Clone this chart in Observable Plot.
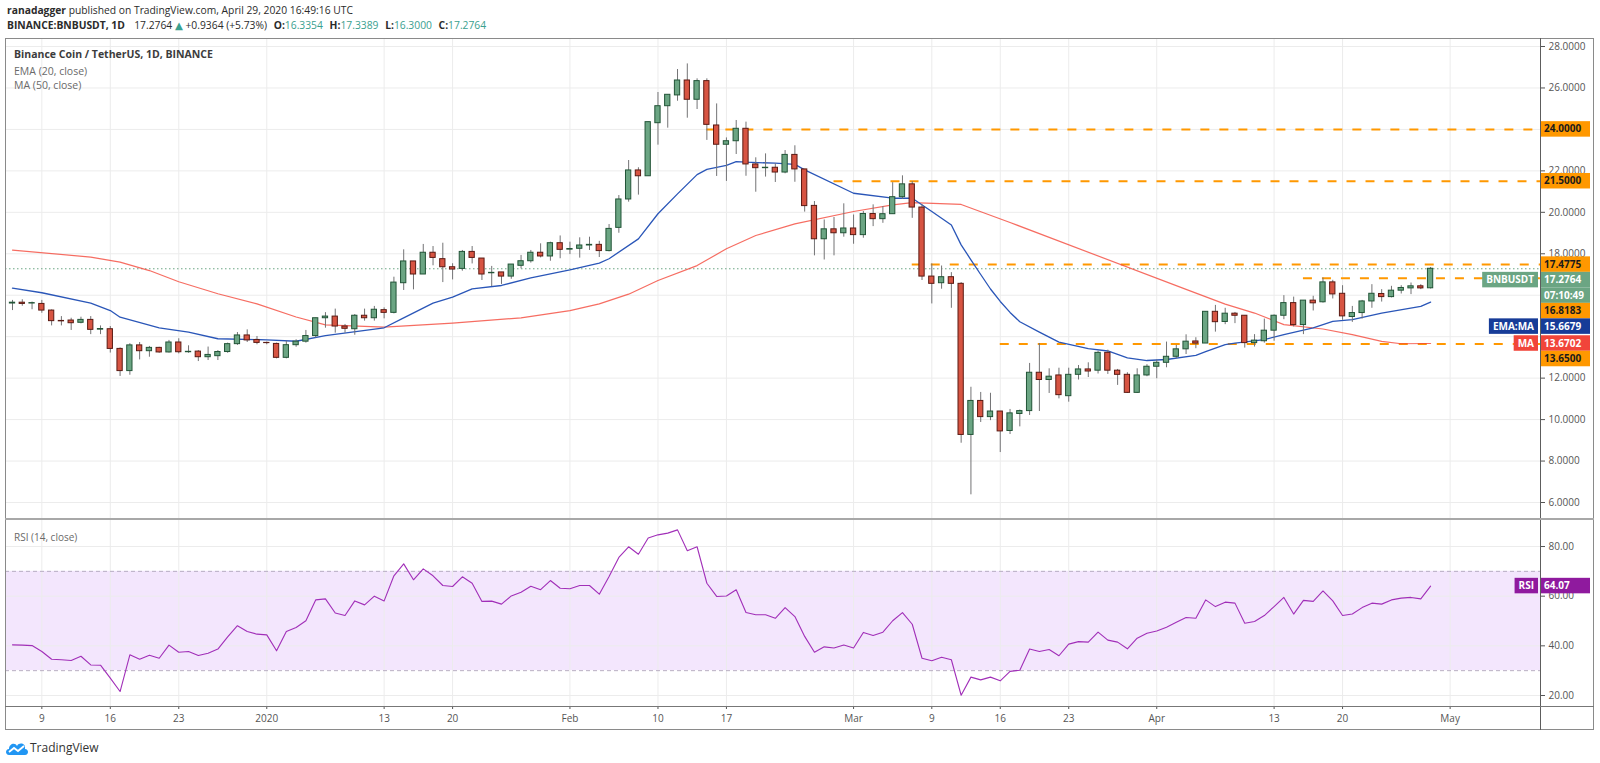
<!DOCTYPE html>
<html><head><meta charset="utf-8">
<script src="https://cdn.jsdelivr.net/npm/d3@7"></script>
<script src="https://cdn.jsdelivr.net/npm/@observablehq/plot@0.6"></script>
<style>
html,body{margin:0;padding:0;background:#fff;}
#page{position:relative;width:1600px;height:763px;overflow:hidden;font-family:"Open Sans","Noto Sans","DejaVu Sans",sans-serif;color:#333;}
.abs{position:absolute;white-space:nowrap;}
.hdr{font-size:10.3px;line-height:13px;color:#2b2b2b;}
.t{color:#3aa08f;}
.g{margin-left:4px;}
.ln{position:absolute;background:#8a8a8a;}
.leg{font-size:10.5px;line-height:14px;}
</style></head>
<body><div id="page">
<div class="abs hdr" style="left:7px;top:4px"><b>ranadagger</b> published on TradingView.com, April 29, 2020 16:49:16 UTC</div>
<div class="abs hdr" style="left:7px;top:19px"><b>BINANCE:BNBUSDT, 1D</b>&nbsp; <span class="g">17.2764</span> <span class="t">▲</span> +0.9364 (+5.73%) <b class="g">O:</b><span class="t">16.3354</span> <b class="g">H:</b><span class="t">17.3389</span> <b class="g">L:</b><span class="t">16.3000</span> <b class="g">C:</b><span class="t">17.2764</span></div>
<div id="main" class="abs" style="left:0;top:38px"></div>
<div id="rsi" class="abs" style="left:0;top:519px"></div>
<div class="abs leg" style="left:14px;top:47px;font-weight:bold;color:#3c3c3c">Binance Coin / TetherUS, 1D, BINANCE</div>
<div class="abs leg" style="left:14px;top:64px;color:#6a6a6a">EMA (20, close)</div>
<div class="abs leg" style="left:14px;top:78px;color:#6a6a6a">MA (50, close)</div>
<div class="abs leg" style="left:14px;top:530px;color:#6a6a6a;font-size:10px">RSI (14, close)</div>
<div class="ln" style="left:5px;top:38px;width:1589px;height:1px"></div>
<div class="ln" style="left:5px;top:729px;width:1589px;height:1px"></div>
<div class="ln" style="left:5px;top:38px;width:1px;height:692px"></div>
<div class="ln" style="left:1593px;top:38px;width:1px;height:692px"></div>
<div class="ln" style="left:1540px;top:38px;width:1px;height:692px;background:#5d5d5d"></div>
<div class="ln" style="left:5px;top:518px;width:1589px;height:2px;background:#a8a8a8"></div>
<div class="ln" style="left:5px;top:706px;width:1589px;height:1px;background:#777"></div>
<div class="abs" style="left:5px;top:739px">
<svg width="24" height="16" viewBox="0 0 24 16"><path d="M4 15 C0 15 0 9 4 9 C4 4 10 2 12 6 C14 2 21 3 20 9 C24 9 24 15 20 15 Z" fill="#2196f3"/><path d="M4 12 L9 8 L13 11 L19 6" stroke="#fff" stroke-width="1.8" fill="none"/></svg></div>
<div class="abs" style="left:30px;top:739px;font-size:12px;color:#333">TradingView</div>
</div>
<script>
// ---- data ----
const firstDay = Date.UTC(2019, 11, 6); // Dec 6, 2019, one candle per day up to Apr 29, 2020
const open = [15.60,15.64,15.60,15.58,15.26,14.76,14.78,14.67,14.81,14.34,
14.36,13.41,12.34,13.58,13.30,13.46,13.24,13.72,13.25,13.28,
13.01,13.06,13.26,13.64,14.06,13.84,13.70,13.65,12.98,13.59,
13.76,14.03,14.89,14.97,14.49,14.36,15.01,14.89,15.28,15.15,
16.58,17.63,17.00,18.05,17.74,17.35,17.27,18.09,17.77,17.06,
17.10,16.90,17.42,17.64,18.05,17.87,18.51,18.20,18.24,18.40,
18.43,18.13,19.25,20.62,22.02,21.74,24.30,25.12,25.64,26.36,
25.43,26.33,24.19,23.26,23.43,24.03,22.31,22.13,22.15,21.92,
22.77,22.07,20.31,18.70,19.18,18.99,19.22,18.90,19.92,19.67,
19.91,20.73,21.35,20.23,16.90,16.58,16.87,16.55,9.26,10.90,
10.12,10.39,9.45,10.27,10.41,12.26,11.91,12.13,11.13,12.16,
12.42,12.36,13.22,12.36,12.16,11.29,12.13,12.55,12.74,13.03,
13.39,13.77,13.67,15.20,14.71,15.11,15.01,13.69,13.78,14.29,
15.01,15.62,14.56,15.74,15.66,16.62,16.07,14.95,15.14,15.70,
16.06,15.91,16.22,16.33,16.43,16.3354];
const high = [15.75,15.78,15.67,15.75,15.29,14.97,14.89,14.94,14.97,14.52,
14.49,13.46,13.66,13.72,13.53,13.49,13.82,13.90,13.56,13.33,
13.50,13.33,13.69,14.20,14.33,14.01,13.74,13.69,13.78,13.85,
14.30,14.89,15.16,15.33,14.59,15.07,15.33,15.46,15.39,16.87,
18.19,17.63,18.45,18.35,18.51,17.52,18.16,18.35,17.77,17.39,
17.10,17.48,17.92,18.16,18.48,18.56,18.86,18.56,18.77,18.80,
18.60,19.41,20.81,22.50,22.15,24.35,25.78,25.67,26.89,27.16,
26.44,26.44,25.23,23.59,24.43,24.35,22.63,22.82,22.34,22.98,
23.21,22.07,20.52,19.63,19.75,20.41,19.87,20.04,20.36,20.28,
21.43,21.76,21.48,20.36,17.51,17.41,17.09,16.61,11.56,11.31,
11.27,10.39,10.49,10.46,12.71,13.67,12.45,12.48,12.48,12.61,
12.74,13.30,13.35,12.42,12.26,12.45,12.65,12.87,13.74,13.58,
14.09,13.95,15.20,15.51,15.37,15.17,15.01,14.10,14.85,15.05,
15.98,15.91,15.74,15.95,16.83,16.72,16.46,15.46,15.75,16.51,
16.27,16.43,16.46,16.59,16.51,17.3389];
const low = [15.26,15.47,15.30,15.13,14.52,14.52,14.30,14.62,14.10,14.10,
13.21,12.08,12.14,12.88,13.01,13.20,13.21,13.17,13.20,12.80,
12.85,12.85,13.20,13.58,13.72,13.61,13.61,12.93,12.93,13.49,
13.69,13.94,14.41,14.17,14.17,14.07,14.75,14.75,14.86,15.10,
16.23,16.26,17.00,17.42,16.61,16.74,17.16,17.51,16.71,16.42,
16.52,16.77,17.27,17.55,17.80,17.64,17.76,17.96,17.79,18.16,
17.82,18.09,18.99,20.49,20.83,21.74,23.24,24.06,25.36,24.54,
24.96,23.47,21.73,21.49,22.79,21.74,20.97,21.70,21.44,21.86,
21.45,20.01,17.90,17.70,17.90,18.80,18.46,18.75,19.31,19.47,
19.91,20.63,19.71,16.71,15.58,16.29,15.37,8.86,6.37,9.86,
9.95,8.41,9.28,9.65,10.20,10.39,11.26,11.00,10.84,11.91,
12.03,12.20,12.18,11.65,11.26,11.26,12.07,11.97,12.50,12.93,
13.14,13.42,13.67,14.22,14.58,14.63,13.45,13.50,13.69,13.78,
14.82,14.47,14.10,15.24,15.62,15.82,14.79,14.69,14.85,15.37,
15.67,15.87,16.06,16.03,16.27,16.30];
const close = [15.64,15.58,15.62,15.26,14.75,14.74,14.65,14.81,14.33,14.37,
13.41,12.34,13.58,13.30,13.46,13.24,13.72,13.25,13.27,13.01,
13.12,13.26,13.64,14.06,13.82,13.70,13.69,12.98,13.59,13.76,
14.03,14.89,14.97,14.49,14.38,15.01,14.89,15.30,15.15,16.61,
17.63,17.00,18.05,17.80,17.35,17.24,18.09,17.80,17.00,17.08,
16.90,17.48,17.64,18.05,17.87,18.51,18.19,18.23,18.40,18.43,
18.13,19.20,20.62,22.02,21.74,24.35,25.12,25.67,26.36,25.43,
26.33,24.22,23.26,23.43,24.03,22.31,22.13,22.15,21.92,22.77,
22.07,20.30,18.70,19.18,18.99,19.22,18.90,19.92,19.67,19.91,
20.73,21.35,20.23,16.90,16.55,16.87,16.55,9.26,10.90,10.12,
10.39,9.43,10.30,10.41,12.26,11.91,12.07,11.18,12.16,12.42,
12.32,13.22,12.36,12.16,11.29,12.13,12.55,12.74,13.03,13.39,
13.76,13.67,15.20,14.70,15.11,15.01,13.69,13.81,14.29,15.01,
15.62,14.56,15.74,15.61,16.62,16.04,14.98,15.14,15.70,16.07,
15.91,16.22,16.35,16.43,16.33,17.2764];
const rsiValues = [40.4,40.3,40.1,37.7,34.6,34.4,34.1,35.8,32.3,32.2,
27.0,21.6,36.4,34.6,36.2,35.0,40.3,37.4,37.7,36.1,
37.0,38.7,43.6,48.1,45.8,44.7,44.4,38.0,45.8,47.4,
50.1,58.5,58.9,53.2,52.2,58.1,56.5,60.0,58.1,68.2,
73.0,66.6,71.0,68.2,64.3,63.9,67.8,65.2,57.9,58.0,
56.8,60.1,61.6,64.0,62.6,66.3,63.2,63.0,64.3,64.3,
60.8,67.9,75.6,79.9,76.9,83.4,84.7,85.4,86.7,78.3,
79.9,65.2,59.9,60.1,62.6,53.4,52.5,52.5,51.1,55.4,
51.8,43.8,37.4,39.6,39.1,40.3,39.1,45.4,44.2,45.5,
50.1,53.4,48.7,35.0,34.0,35.4,34.4,20.1,27.4,26.3,
27.4,25.9,29.7,30.2,38.7,37.7,38.5,36.0,40.7,41.7,
41.5,45.5,42.3,41.5,38.8,43.1,45.1,46.0,47.5,49.5,
51.4,51.1,58.5,55.8,57.6,57.2,49.1,49.8,52.2,55.8,
59.5,52.8,58.3,57.9,62.1,58.1,52.2,52.8,55.4,57.2,
56.8,58.5,59.2,59.5,58.9,64.07];
// EMA(20) and MA(50) at these day offsets from Dec 6
const emaDay = [0,3,8,10,11,15,18,21,26,29,32,38,40,43,45,47,50,53,57,60,61,64,66,68,70,71,73,74,75,78,80,81,86,90,92,94,96,97,98,99,100,101,102,103,105,107,110,112,114,116,118,121,122,124,125,128,130,133,135,137,140,144,145];
const emaVal = [16.34,16.12,15.62,15.26,14.94,14.43,14.22,13.90,13.85,13.78,14.05,14.43,14.91,15.62,15.91,16.31,16.47,16.84,17.22,17.55,17.76,18.72,19.93,20.89,21.82,22.07,22.26,22.45,22.42,22.37,22.31,22.05,20.92,20.68,20.68,20.04,19.39,18.43,17.71,17.00,16.30,15.70,15.17,14.72,14.22,13.74,13.42,13.31,12.98,12.85,12.90,13.10,13.28,13.62,13.69,13.86,14.10,14.42,14.74,14.82,15.14,15.46,15.67];
const maDay = [0,8,11,14,17,21,25,29,32,38,45,52,57,60,63,66,70,73,76,80,86,90,92,97,102,120,124,127,130,134,137,140,142,145];
const maVal = [18.18,17.84,17.60,17.19,16.65,16.07,15.58,14.95,14.57,14.46,14.65,14.91,15.26,15.58,16.05,16.71,17.43,18.24,18.88,19.44,20.04,20.36,20.47,20.38,19.51,16.28,15.57,15.14,14.58,14.37,14.10,13.77,13.66,13.67];
const priceTicks = [6,8,10,12,14,16,18,20,22,24,26,28];
const rsiTicks = [20,40,60,80];
const tickDates = ["2019-12-09","2019-12-16","2019-12-23","2020-01-01","2020-01-13","2020-01-20","2020-02-01","2020-02-10","2020-02-17","2020-03-01","2020-03-09","2020-03-16","2020-03-23","2020-04-01","2020-04-13","2020-04-20","2020-05-01"];
const tickLabels = ["9","16","23","2020","13","20","Feb","10","17","Mar","9","16","23","Apr","13","20","May"];
const levelValues = [24, 21.5, 17.4775, 16.8183, 13.65];
const levelStart = ["2020-02-15","2020-02-28","2020-03-07","2020-04-16","2020-03-16"];
const lastPrice = 17.2764, emaLast = 15.6679, maLast = 13.6702, rsiLast = 64.07;
const countdown = "07:10:49";
const symbol = "BNBUSDT";

// ---- build ----
const DAY = 864e5;
const FONT = '"Open Sans","Noto Sans","DejaVu Sans",sans-serif';
const UP = "#6ba583", DOWN = "#d75442", UPB = "#225437", DOWNB = "#5b1a13";
const candles = open.map((o, i) => ({date: new Date(firstDay + i * DAY), open: o, high: high[i], low: low[i], close: close[i]}));
const ema = emaDay.map((d, i) => ({date: new Date(firstDay + d * DAY), value: emaVal[i]}));
const ma = maDay.map((d, i) => ({date: new Date(firstDay + d * DAY), value: maVal[i]}));
const rsi = rsiValues.map((v, i) => ({date: new Date(firstDay + i * DAY), value: v}));
const ticks = tickDates.map(s => new Date(s + "T00:00:00Z"));
const tickLab = new Map(ticks.map((d, i) => [+d, tickLabels[i]]));
const levels = levelValues.map((v, i) => ({value: v, start: new Date(levelStart[i] + "T00:00:00Z")}));
const xDomain = [new Date(firstDay - 0.716 * DAY), new Date(firstDay + 156.24 * DAY)];
const hw = 0.27 * DAY;
const grid = "#ececec";

const main = Plot.plot({
  width: 1600, height: 481, marginLeft: 5, marginRight: 60, marginTop: 0, marginBottom: 0,
  style: {fontFamily: FONT, fontSize: "10px", color: "#555", background: "transparent", overflow: "visible"},
  x: {type: "utc", domain: xDomain, axis: null, label: null},
  y: {domain: [5.18, 28.386], axis: "right", ticks: priceTicks, tickFormat: d => d.toFixed(4), tickSize: 4, tickPadding: 4, label: null},
  marks: [
    Plot.ruleY(priceTicks, {stroke: grid}),
    Plot.ruleX(ticks, {stroke: grid}),
    Plot.ruleY([lastPrice], {stroke: UP, strokeDasharray: "1.5,2.5"}),
    Plot.ruleY(levels, {y: "value", x1: "start", x2: () => xDomain[1], stroke: "#ff9800", strokeWidth: 2, strokeDasharray: "9,10"}),
    Plot.line(ma, {x: "date", y: "value", stroke: "#f4483b", strokeOpacity: 0.8, strokeWidth: 1.2}),
    Plot.line(ema, {x: "date", y: "value", stroke: "#2a56b8", strokeWidth: 1.3}),
    Plot.ruleX(candles, {x: "date", y1: "low", y2: "high", stroke: "#737375", strokeWidth: 1}),
    Plot.rect(candles, {
      x1: d => new Date(+d.date - hw), x2: d => new Date(+d.date + hw),
      y1: "open", y2: "close",
      fill: d => d.close >= d.open ? UP : DOWN,
      stroke: d => d.close >= d.open ? UPB : DOWNB, strokeWidth: 1
    })
  ]
});
document.getElementById("main").appendChild(main);

const rsiPlot = Plot.plot({
  width: 1600, height: 211, marginLeft: 5, marginRight: 60, marginTop: 0, marginBottom: 24,
  style: {fontFamily: FONT, fontSize: "10px", color: "#555", background: "transparent", overflow: "visible"},
  x: {type: "utc", domain: xDomain, ticks: ticks, tickFormat: d => tickLab.get(+d), tickSize: 3, tickPadding: 5, label: null},
  y: {domain: [15.57, 90.88], axis: "right", ticks: rsiTicks, tickFormat: d => d.toFixed(2), tickSize: 4, tickPadding: 4, label: null},
  marks: [
    Plot.rectY([0], {y1: 30, y2: 70, fill: "#f3e6fd"}),
    Plot.ruleY(rsiTicks, {stroke: grid}),
    Plot.ruleX(ticks, {stroke: grid}),
    Plot.ruleY([30, 70], {stroke: "#b8aec2", strokeDasharray: "4,3"}),
    Plot.line(rsi, {x: "date", y: "value", stroke: "#a12fb8", strokeWidth: 1.1})
  ]
});
document.getElementById("rsi").appendChild(rsiPlot);

// ---- value labels on the price axis (stacked so they never overlap) ----
function drawLabels(chart, labels) {
  const ys = chart.scale("y");
  const xr = chart.scale("x").range[1];
  const H = 15.5;
  const g = d3.select(chart).append("g")
    .attr("font-family", FONT).attr("font-size", 10).attr("font-weight", "bold")
    .attr("text-anchor", "start");
  const boxes = [];
  function box(x, top, w, bg, fg, text) {
    const r = g.append("rect").attr("x", x).attr("y", top).attr("width", w).attr("height", H).attr("fill", bg);
    g.append("text").attr("x", x + 4).attr("y", top + H / 2).attr("dy", "0.35em").attr("fill", fg).text(text);
    boxes.push(r.node().getBoundingClientRect());
  }
  labels.sort((a, b) => b.value - a.value);
  let bottom = -Infinity;
  for (const L of labels) {
    const top = Math.max(ys.apply(L.value) - H / 2, bottom);
    box(xr, top, 50, L.bg, L.fg, L.text);
    if (L.tag) {
      const t = g.append("text").text(L.tag);
      const w = t.node().getComputedTextLength() + 8;
      t.remove();
      box(xr - 2 - w, top, w, L.bg, "#fff", L.tag);
    }
    bottom = top + H;
    if (L.sub) { box(xr, bottom, 50, L.bg, L.fg, L.sub); bottom += H; }
  }
  // axis tick labels whose centre sits under a label box are hidden, as on the reference
  const own = new Set(g.selectAll("text").nodes());
  for (const t of chart.querySelectorAll("text")) {
    if (own.has(t)) continue;
    const b = t.getBoundingClientRect();
    const cy = (b.top + b.bottom) / 2, cx = (b.left + b.right) / 2;
    if (boxes.some(r => cy >= r.top && cy <= r.bottom && cx >= r.left && cx <= r.right)) t.remove();
  }
}
const orange = "#ff9800";
drawLabels(main, [
  ...levelValues.map(v => ({value: v, text: v.toFixed(4), bg: orange, fg: "#1b1b1b"})),
  {value: lastPrice, text: lastPrice.toFixed(4), bg: UP, fg: "#fff", tag: symbol, sub: countdown},
  {value: emaLast, text: emaLast.toFixed(4), bg: "#173c98", fg: "#fff", tag: "EMA:MA"},
  {value: maLast, text: maLast.toFixed(4), bg: "#f1453a", fg: "#fff", tag: "MA"}
]);
drawLabels(rsiPlot, [{value: rsiLast, text: rsiLast.toFixed(2), bg: "#8f1a9e", fg: "#fff", tag: "RSI"}]);
</script>
</body></html>
